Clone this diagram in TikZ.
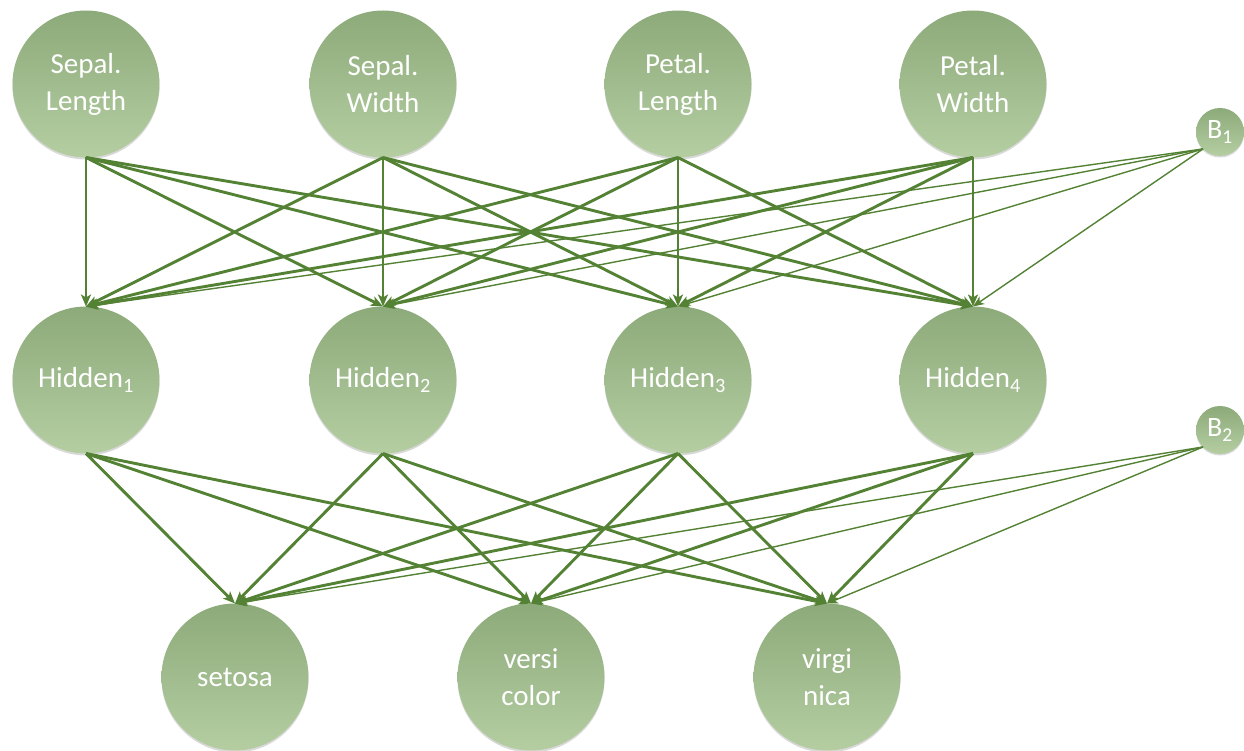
\documentclass[tikz,border=0pt]{standalone}
\usepackage{fontspec}
\setmainfont{Carlito}
\usetikzlibrary{arrows.meta,shadows}
\definecolor{linegreen}{RGB}{84,130,53}
\definecolor{topgreen}{RGB}{141,170,122}
\definecolor{botgreen}{RGB}{180,206,162}
\tikzset{
  neuron/.style={circle, minimum size=147pt, inner sep=0pt, outer sep=0pt,
    top color=topgreen, bottom color=botgreen, draw=none,
    text=white, align=center, font=\fontsize{29}{37}\selectfont,
    drop shadow={shadow xshift=0pt, shadow yshift=-2pt, opacity=0.25, fill=black!60}},
  bias/.style={circle, minimum size=48pt, inner sep=0pt, outer sep=0pt,
    top color=topgreen, bottom color=botgreen, draw=none,
    text=white, font=\fontsize{28}{32}\selectfont,
    drop shadow={shadow xshift=0pt, shadow yshift=-1.5pt, opacity=0.25, fill=black!60}},
  wire/.style={draw=linegreen, line width=2.9pt, -{Stealth[length=12pt,width=10pt,inset=3pt]}},
  biaswire/.style={draw=linegreen, line width=1.4pt, -{Stealth[length=11pt,width=9pt,inset=3pt]}}
}
\begin{document}
\begin{tikzpicture}[x=1pt,y=-1pt]
\useasboundingbox (0,0) rectangle (1244,751);
% inputs
\node[neuron] (i1) at (86,84) {Sepal.\\Length};
\node[neuron] (i2) at (383,84) {Sepal.\\Width};
\node[neuron] (i3) at (678,84) {Petal.\\Length};
\node[neuron] (i4) at (973,84) {Petal.\\Width};
% hidden
\node[neuron] (h1) at (86,380) {Hidden\textsubscript{1}};
\node[neuron] (h2) at (383,380) {Hidden\textsubscript{2}};
\node[neuron] (h3) at (678,380) {Hidden\textsubscript{3}};
\node[neuron] (h4) at (973,380) {Hidden\textsubscript{4}};
% outputs
\node[neuron] (o1) at (235,677) {setosa};
\node[neuron] (o2) at (531,677) {versi\\color};
\node[neuron] (o3) at (827,677) {virgi\\nica};
% biases
\node[bias] (b1) at (1220,132) {B\textsubscript{1}};
\node[bias] (b2) at (1220,430) {B\textsubscript{2}};
% connections
\foreach \i in {1,...,4}{
  \foreach \j in {1,...,4}{
    \draw[wire] (i\i.south) -- (h\j.north);
  }
}
\foreach \j in {1,...,4}{
  \draw[biaswire] (b1.south west) -- (h\j.north);
}
\foreach \i in {1,...,4}{
  \foreach \j in {1,...,3}{
    \draw[wire] (h\i.south) -- (o\j.north);
  }
}
\foreach \j in {1,...,3}{
  \draw[biaswire] (b2.south west) -- (o\j.north);
}
\end{tikzpicture}
\end{document}
